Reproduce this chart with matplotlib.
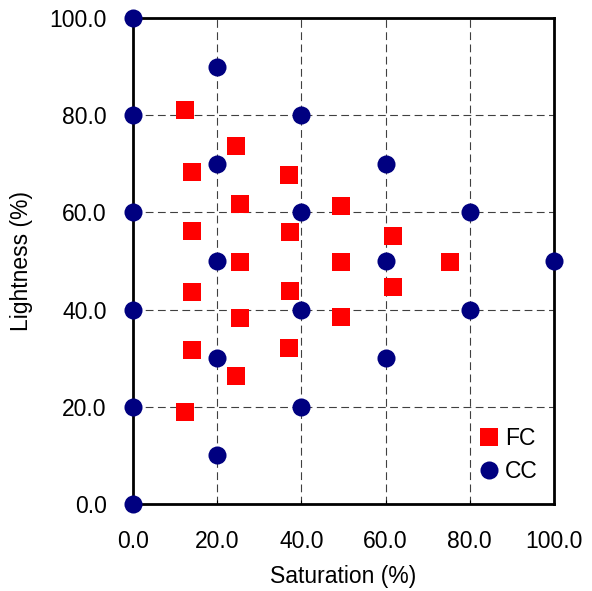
import matplotlib
matplotlib.use("Agg")
import matplotlib.pyplot as plt

# FC samples (saturation %, lightness %)
fc_sat = [12.4, 24.5, 14.0, 37.1, 25.5, 49.5, 14.0, 37.4, 61.7, 25.5, 49.3, 75.2,
          61.7, 14.0, 37.4, 25.5, 49.3, 14.0, 37.1, 24.5, 12.4]
fc_light = [81.1, 73.7, 68.4, 67.6, 61.8, 61.4, 56.1, 55.9, 55.2, 49.9, 49.9, 49.9,
            44.6, 43.7, 43.9, 38.2, 38.4, 31.6, 32.2, 26.3, 18.9]

# CC samples
cc_sat = [0, 20, 0, 40, 20, 60, 0, 40, 80, 20, 60, 100, 0, 40, 80, 20, 60, 0, 40, 20, 0]
cc_light = [100, 90, 80, 80, 70, 70, 60, 60, 60, 50, 50, 50, 40, 40, 40, 30, 30, 20, 20, 10, 0]

ticks = [0, 20, 40, 60, 80, 100]

plt.rcParams["font.family"] = ["Liberation Sans", "DejaVu Sans"]

fig = plt.figure(figsize=(5.92, 5.91), dpi=100)
ax = fig.add_axes([0.2247, 0.1472, 0.7111, 0.8223])

ax.plot(fc_sat, fc_light, "s", color="#ff0000", markersize=13, markeredgewidth=0,
        label="FC", clip_on=False, zorder=3)
ax.plot(cc_sat, cc_light, "o", color="#000080", markersize=13, markeredgewidth=0,
        label="CC", clip_on=False, zorder=3)

ax.set_xlim(0, 100)
ax.set_ylim(0, 100)
ax.set_xticks(ticks)
ax.set_yticks(ticks)
ax.set_xticklabels([f"{t:.1f}" for t in ticks])
ax.set_yticklabels([f"{t:.1f}" for t in ticks])
# small inward ticks, labels pushed well away from the frame
ax.tick_params(direction="in", length=3, width=0.8, labelsize=16.5)
ax.tick_params(axis="x", pad=18.5)
ax.tick_params(axis="y", pad=19)

ax.grid(True, color="#404040", linewidth=0.8, linestyle=(0, (7, 4)))
ax.set_axisbelow(True)
for sp in ax.spines.values():
    sp.set_linewidth(2)
    sp.set_color("black")

ax.set_xlabel("Saturation (%)", fontsize=16.5, labelpad=8.5)
ax.set_ylabel("Lightness (%)", fontsize=16.5, labelpad=12)

ax.legend(loc="lower right", frameon=False, fontsize=16.5, handletextpad=0.1,
          handlelength=1.2, labelspacing=0.45, bbox_to_anchor=(1.01, 0.0))

fig.savefig("out.png", facecolor="white")
